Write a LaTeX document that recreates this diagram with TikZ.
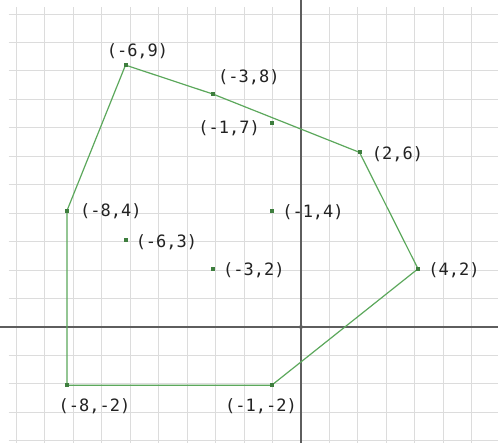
\documentclass[tikz,border=0pt]{standalone}
\usepackage{fontspec}
\setmonofont{DejaVu Sans Mono}
\definecolor{gridc}{HTML}{DCDCDC}
\definecolor{axisc}{HTML}{5E5E5E}
\definecolor{polyc}{HTML}{5CA85C}
\definecolor{ptc}{HTML}{3E7E3E}
\definecolor{txtc}{HTML}{222222}
\begin{document}
\begin{tikzpicture}[x=29.25pt,y=29.1pt,
  gridline/.style={draw=gridc,line width=1pt},
  axisline/.style={draw=axisc,line width=1.3pt},
  polyline/.style={draw=polyc,line width=1.2pt,line join=miter},
  pt/.style={rectangle,fill=ptc,inner sep=0pt,minimum size=4pt},
  lbl/.style={text=txtc,inner sep=0pt,font=\ttfamily\fontsize{17}{17}\selectfont}]
\useasboundingbox[fill=white] (-10.291,-3.986) rectangle (6.735,11.237);
% grid
\draw[gridline] (-10,-4.2) grid (6.9,11);
% axes
\draw[axisline] (-10.291,0) -- (6.735,0);
\draw[axisline] (0,-3.986) -- (0,11.237);
\fill[axisc] (0,0) circle (2pt);
% polygon
\node[pt] (a) at (-6,9) {};
\node[pt] (b) at (-3,8) {};
\node[pt] (c) at (2,6) {};
\node[pt] (d) at (4,2) {};
\node[pt] (e) at (-1,-2) {};
\node[pt] (f) at (-8,-2) {};
\node[pt] (g) at (-8,4) {};
\node[pt] (h) at (-1,7) {};
\node[pt] (i) at (-1,4) {};
\node[pt] (j) at (-6,3) {};
\node[pt] (k) at (-3,2) {};
\draw[polyline] (a.center) -- (b.center) -- (c.center) -- (d.center) -- (e.center) -- (f.center) -- (g.center) -- cycle;
\foreach \n in {a,b,c,d,e,f,g,h,i,j,k} \node[pt] at (\n) {};
% labels
\node[lbl] (la) at (-5.59,9.48) {(-6,9)};
\node[lbl] (lb) at (-1.78,8.59) {(-3,8)};
\node[lbl] (lh) at (-2.46,6.84) {(-1,7)};
\node[lbl] (lc) at (3.30,5.95) {(2,6)};
\node[lbl] (lg) at (-6.50,3.99) {(-8,4)};
\node[lbl] (li) at (0.41,3.95) {(-1,4)};
\node[lbl] (lj) at (-4.60,2.92) {(-6,3)};
\node[lbl] (lk) at (-1.61,1.96) {(-3,2)};
\node[lbl] (ld) at (5.23,1.96) {(4,2)};
\node[lbl] (lf) at (-7.06,-2.71) {(-8,-2)};
\node[lbl] (le) at (-1.37,-2.71) {(-1,-2)};
\end{tikzpicture}
\end{document}
